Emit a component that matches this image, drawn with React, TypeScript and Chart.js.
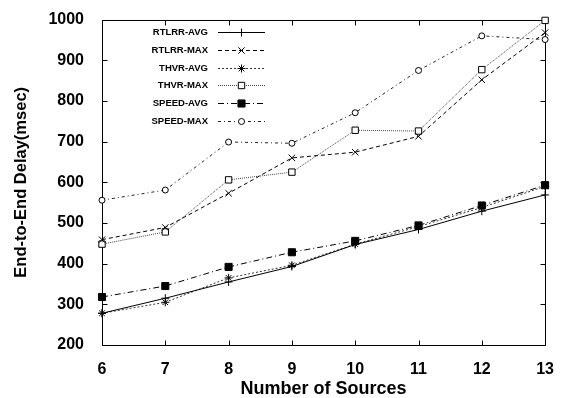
import React, { useEffect, useRef } from 'react';
import { Chart, registerables } from 'chart.js';

Chart.register(...registerables);

const sources = [6, 7, 8, 9, 10, 11, 12, 13];
const rtlrrAvg = [278, 315, 355, 393, 447, 484, 529, 569];
const rtlrrMax = [459, 489, 573, 660, 674, 713, 852, 968];
const thvrAvg = [278, 305, 365, 396, 448, 491, 538, 590];
const thvrMax = [448, 478, 606, 625, 728, 726, 877, 998];
const speedAvg = [318, 345, 392, 428, 456, 494, 543, 593];
const speedMax = [556, 581, 699, 696, 771, 875, 960, 951];
const seriesNames = ['RTLRR-AVG', 'RTLRR-MAX', 'THVR-AVG', 'THVR-MAX', 'SPEED-AVG', 'SPEED-MAX'];
const xTitle = 'Number of Sources';
const yTitle = 'End-to-End Delay(msec)';
const yMin = 200;
const yMax = 1000;
const yStep = 100;

const FONT = "'Liberation Sans', Arial, sans-serif";

function drawMarker(ctx: CanvasRenderingContext2D, style: string, x: number, y: number, r: number, fill: string) {
  ctx.save();
  ctx.lineWidth = 1;
  ctx.strokeStyle = '#000';
  ctx.fillStyle = fill;
  ctx.beginPath();
  if (style === 'cross') {
    ctx.moveTo(x - r, y); ctx.lineTo(x + r, y);
    ctx.moveTo(x, y - r); ctx.lineTo(x, y + r);
    ctx.stroke();
  } else if (style === 'crossRot') {
    const d = r * Math.SQRT1_2;
    ctx.moveTo(x - d, y - d); ctx.lineTo(x + d, y + d);
    ctx.moveTo(x + d, y - d); ctx.lineTo(x - d, y + d);
    ctx.stroke();
  } else if (style === 'star') {
    const d = r * Math.SQRT1_2;
    ctx.moveTo(x - r, y); ctx.lineTo(x + r, y);
    ctx.moveTo(x, y - r); ctx.lineTo(x, y + r);
    ctx.moveTo(x - d, y - d); ctx.lineTo(x + d, y + d);
    ctx.moveTo(x + d, y - d); ctx.lineTo(x - d, y + d);
    ctx.stroke();
  } else if (style === 'rect') {
    const s = r * Math.SQRT1_2;
    ctx.rect(x - s, y - s, 2 * s, 2 * s);
    ctx.fill();
    ctx.stroke();
  } else {
    ctx.arc(x, y, r, 0, Math.PI * 2);
    ctx.fill();
    ctx.stroke();
  }
  ctx.restore();
}

const framePlugin = {
  id: 'gnuFrame',
  beforeDatasetsDraw(chart: any) {
    const { ctx, chartArea: a, scales } = chart;
    const l = Math.round(a.left) + 0.5;
    const r = Math.round(a.right) + 0.5;
    const t = Math.round(a.top) + 0.5;
    const b = Math.round(a.bottom) + 0.5;
    const tl = 5;
    ctx.save();
    ctx.strokeStyle = '#000';
    ctx.lineWidth = 1;
    ctx.beginPath();
    ctx.rect(l, t, r - l, b - t);
    scales.x.ticks.forEach((tk: any) => {
      const px = Math.round(scales.x.getPixelForValue(tk.value)) + 0.5;
      ctx.moveTo(px, b); ctx.lineTo(px, b - tl);
      ctx.moveTo(px, t); ctx.lineTo(px, t + tl);
    });
    scales.y.ticks.forEach((tk: any) => {
      const py = Math.round(scales.y.getPixelForValue(tk.value)) + 0.5;
      ctx.moveTo(l, py); ctx.lineTo(l + tl, py);
      ctx.moveTo(r, py); ctx.lineTo(r - tl, py);
    });
    ctx.stroke();
    ctx.restore();
  },
};

const legendPlugin = {
  id: 'gnuLegend',
  afterDraw(chart: any) {
    const { ctx } = chart;
    const textRight = 208;
    const lineStart = 218;
    const lineEnd = 265;
    const startY = 32;
    const rowH = 17.8;
    ctx.save();
    chart.data.datasets.forEach((ds: any, i: number) => {
      const y = Math.round(startY + i * rowH) + 0.5;
      ctx.font = `bold 9.5px ${FONT}`;
      ctx.fillStyle = '#000';
      ctx.textAlign = 'right';
      ctx.textBaseline = 'middle';
      ctx.fillText(ds.label, textRight, y);
      ctx.beginPath();
      ctx.strokeStyle = ds.borderColor;
      ctx.lineWidth = 1;
      ctx.setLineDash(ds.borderDash || []);
      ctx.moveTo(lineStart, y);
      ctx.lineTo(lineEnd, y);
      ctx.stroke();
      ctx.setLineDash([]);
      drawMarker(ctx, ds.pointStyle, (lineStart + lineEnd) / 2, y, ds.pointRadius, ds.pointBackgroundColor);
    });
    ctx.restore();
  },
};

export default function App() {
  const ref = useRef<HTMLCanvasElement | null>(null);

  useEffect(() => {
    document.body.style.margin = '0';
    const canvas = ref.current;
    if (!canvas) return;
    const pts = (arr: number[]) => sources.map((s, i) => ({ x: s, y: arr[i] }));
    const mk = (label: string, arr: number[], dash: number[], style: string, radius: number, fill: string, color = '#000') => ({
      label,
      data: pts(arr),
      borderColor: color,
      borderWidth: 1,
      borderDash: dash,
      pointStyle: style,
      pointRadius: radius,
      pointBorderWidth: 1,
      pointBorderColor: '#000',
      pointBackgroundColor: fill,
      backgroundColor: fill,
      fill: false,
      tension: 0,
      clip: false as any,
    });
    const chart = new Chart(canvas, {
      type: 'line',
      data: {
        datasets: [
          mk(seriesNames[0], rtlrrAvg, [], 'cross', 4, '#000'),
          mk(seriesNames[1], rtlrrMax, [4, 3], 'crossRot', 4.5, '#000'),
          mk(seriesNames[2], thvrAvg, [2, 2], 'star', 4, '#000', '#333'),
          mk(seriesNames[3], thvrMax, [1, 1], 'rect', 4.5, '#fff', '#444'),
          mk(seriesNames[4], speedAvg, [6, 3, 1, 3], 'rect', 5, '#000'),
          mk(seriesNames[5], speedMax, [3, 3, 1, 3], 'circle', 3, '#fff', '#222'),
        ] as any,
      },
      options: {
        animation: false,
        responsive: false,
        maintainAspectRatio: false,
        devicePixelRatio: 1,
        layout: { padding: { top: 19, right: 10, left: 0, bottom: 0 } },
        plugins: {
          legend: { display: false },
          tooltip: { enabled: false },
        },
        scales: {
          x: {
            type: 'linear',
            min: sources[0],
            max: sources[sources.length - 1],
            grid: { display: false },
            border: { display: false },
            ticks: {
              stepSize: 1,
              color: '#000',
              padding: 7,
              font: { family: FONT, size: 16, weight: 'bold' },
              callback: (v: any) => String(v),
            },
            title: {
              display: true,
              text: xTitle,
              color: '#000',
              padding: { top: 0, bottom: -2 },
              font: { family: FONT, size: 18, weight: 'bold' },
            },
            afterFit: (s: any) => { s.height = 53; },
          },
          y: {
            type: 'linear',
            min: yMin,
            max: yMax,
            grid: { display: false },
            border: { display: false },
            ticks: {
              stepSize: yStep,
              color: '#000',
              padding: 10,
              font: { family: FONT, size: 16, weight: 'bold' },
              callback: (v: any) => String(v),
            },
            title: {
              display: true,
              text: yTitle,
              color: '#000',
              padding: { top: 12, bottom: 0 },
              font: { family: FONT, size: 16.5, weight: 'bold' },
            },
            afterFit: (s: any) => { s.width = 102; },
          },
        } as any,
      },
      plugins: [framePlugin, legendPlugin],
    });
    return () => chart.destroy();
  }, []);

  return (
    <div style={{ width: 561, height: 398, background: '#fff' }}>
      <canvas ref={ref} width={561} height={398} style={{ display: 'block' }} />
    </div>
  );
}
